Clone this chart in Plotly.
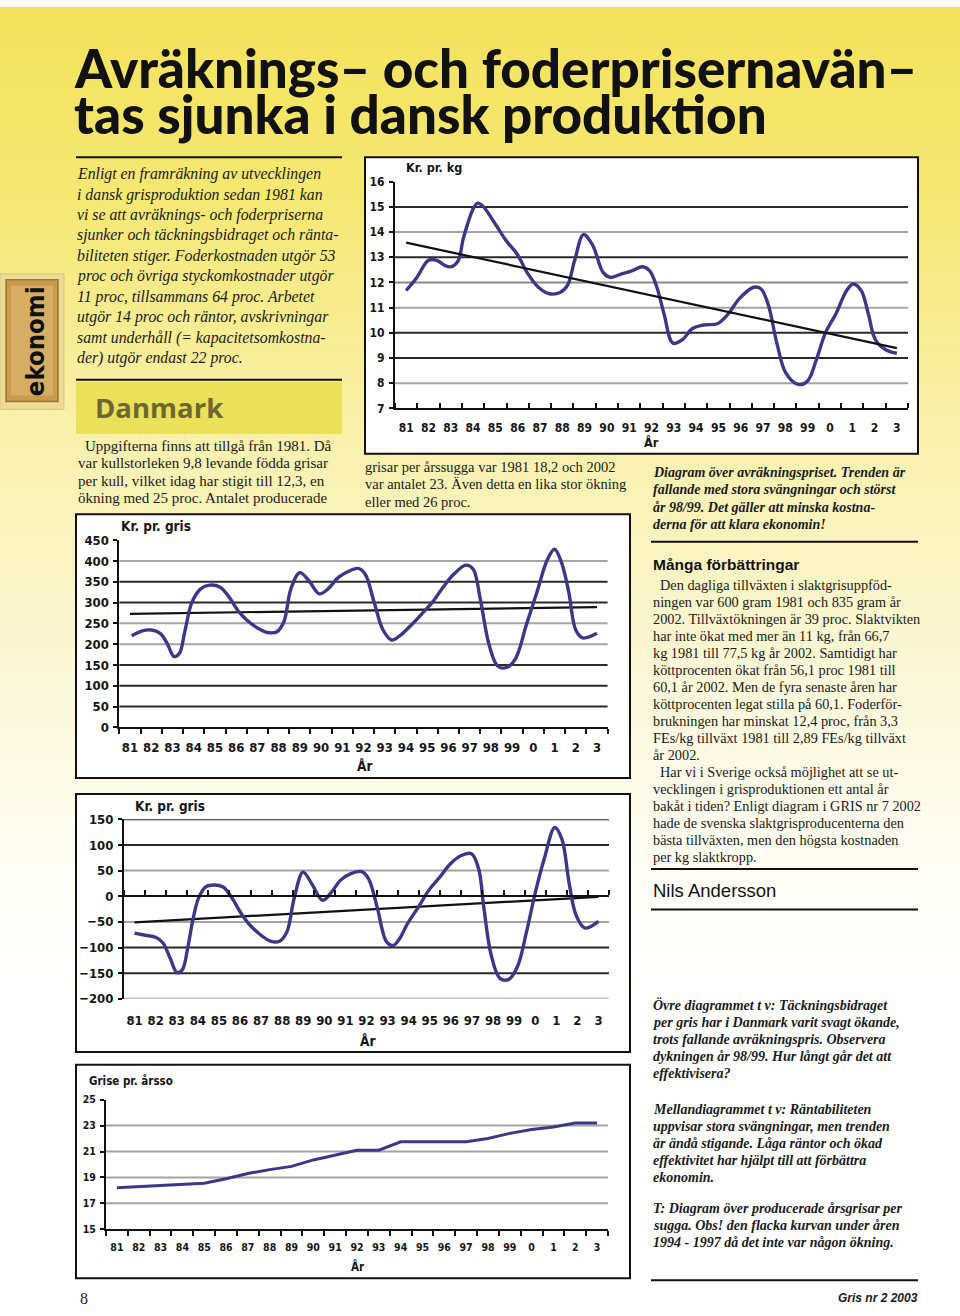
import plotly.graph_objects as go

W, H = 960, 1316


def px(x):
    return x / W


def py(y):
    return 1 - y / H


# ---------------- DATA ----------------
year_labels = ["81", "82", "83", "84", "85", "86", "87", "88", "89", "90", "91", "92",
               "93", "94", "95", "96", "97", "98", "99", "0", "1", "2", "3"]
year_pos = list(range(len(year_labels)))

# Chart 1: Avräkningspris, Kr. pr. kg (position in years after 1981, value)
kg_t = [0, 0.48, 1.0, 1.37, 1.77, 2.0, 2.33, 2.57, 3.02, 3.21, 3.45, 4.01, 4.5, 4.98, 5.46,
        5.94, 6.42, 6.9, 7.23, 7.55, 7.95, 8.35, 8.83, 9.15, 9.64, 10.12, 10.6, 10.92, 11.24,
        11.56, 11.96, 12.37, 12.85, 13.33, 13.97, 14.45, 14.93, 15.58, 15.9, 16.22, 16.62,
        17.02, 17.58, 17.99, 18.39, 18.79, 19.27, 19.75, 20.04, 20.4, 20.72, 21.04, 21.52, 22.0]
kg_val = [11.68, 12.2, 12.88, 12.88, 12.66, 12.62, 12.86, 13.77, 14.95, 15.15, 15.02, 14.3,
          13.64, 13.12, 12.34, 11.8, 11.55, 11.6, 11.88, 12.86, 13.9, 13.5, 12.4, 12.2, 12.33,
          12.46, 12.62, 12.46, 11.81, 10.76, 9.59, 9.72, 10.18, 10.31, 10.37, 10.76, 11.35,
          11.81, 11.75, 11.16, 9.59, 8.41, 7.95, 8.08, 8.93, 9.98, 10.76, 11.68, 11.94, 11.68,
          10.76, 9.72, 9.32, 9.19]
kg_trend_t = [0, 22]
kg_trend = [13.58, 9.39]

# Chart 2: Täckningsbidrag, Kr. pr. gris
tb_t = [0.08, 0.58, 1.0, 1.42, 1.75, 2.08, 2.33, 2.58, 2.92, 3.33, 3.75, 4.25, 4.67, 5.08,
        5.5, 6.0, 6.5, 6.92, 7.25, 7.58, 8.0, 8.42, 8.92, 9.33, 9.83, 10.33, 10.75, 11.08,
        11.5, 11.92, 12.33, 12.75, 13.25, 13.75, 14.25, 14.75, 15.25, 15.83, 16.17, 16.5,
        16.92, 17.33, 17.75, 18.17, 18.67, 19.17, 19.67, 20.0, 20.33, 20.67, 21.0, 21.33, 22.0]
tb_val = [220, 232, 234, 226, 202, 170, 178, 230, 301, 333, 342, 337, 313, 281, 258, 239,
          228, 230, 254, 333, 372, 353, 321, 333, 361, 376, 382, 368, 301, 234, 210, 222,
          246, 273, 301, 337, 368, 390, 380, 309, 198, 147, 144, 166, 246, 325, 404, 428,
          396, 325, 234, 215, 226]
tb_trend_t = [0, 22]
tb_trend = [273, 289]

# Chart 3: Räntabilitet, Kr. pr. gris
ra_t = [0, 0.5, 1.0, 1.35, 1.68, 2.02, 2.27, 2.52, 2.78, 3.03, 3.36, 3.78, 4.2, 4.63, 5.05,
        5.47, 5.97, 6.48, 6.9, 7.23, 7.57, 7.99, 8.41, 8.92, 9.34, 9.76, 10.26, 10.77, 11.1,
        11.52, 11.94, 12.25, 12.53, 12.95, 13.46, 13.96, 14.47, 14.97, 15.47, 15.98, 16.32,
        16.57, 16.91, 17.33, 17.75, 18.17, 18.59, 19.01, 19.43, 19.93, 20.27, 20.6, 20.94,
        21.36, 22.0]
ra_val = [-72, -76, -80, -91, -120, -149, -143, -101, -43, -4, 18, 22, 18, -4, -33, -56, -75,
          -88, -87, -69, -4, 47, 24, -8, 8, 31, 44, 48, 34, -24, -88, -96, -85, -53, -21, 12,
          37, 63, 79, 83, 53, -24, -114, -160, -162, -136, -69, 8, 73, 134, 111, 28, -37,
          -62, -49]
ra_trend_t = [0, 22]
ra_trend = [-51, -1]

# Chart 4: Grise pr. årsso
so_val = [18.2, 18.3, 18.4, 18.5, 18.55, 18.9, 19.3, 19.6, 19.85, 20.35, 20.7, 21.1, 21.1,
          21.75, 21.75, 21.75, 21.75, 22.0, 22.4, 22.7, 22.9, 23.2, 23.2]

# tick values
kg_ticks = [7, 8, 9, 10, 11, 12, 13, 14, 15, 16]
tb_ticks = [0, 50, 100, 150, 200, 250, 300, 350, 400, 450]
ra_ticks = [-200, -150, -100, -50, 0, 50, 100, 150]
so_ticks = [15, 17, 19, 21, 23, 25]

# ---------------- STYLE ----------------
LINE = "#3b3987"
DARK = "#2a2a2a"
GRAY = "#a4a4a4"
CHART_FONT = "Liberation Sans Narrow, DejaVu Sans Condensed, Arial Narrow, sans-serif"
SERIF = "Liberation Serif, Times New Roman, serif"
SANS = "Liberation Sans, Arial, sans-serif"

fig = go.Figure()

# chart frames (pixel boxes) and plot areas
charts = {
    "1": dict(box=(365, 152, 918, 452), dom_x=(395, 908), dom_y=(176.7, 406), rng=(7, 16),
              ticks=kg_ticks, fsize=12, xdir="inside"),
    "2": dict(box=(76, 513, 630, 780), dom_x=(119.4, 607.6), dom_y=(539.3, 728.7), rng=(0, 450),
              ticks=tb_ticks, fsize=13, xdir="outside"),
    "3": dict(box=(76, 796, 630, 1057), dom_x=(124, 609), dom_y=(821.7, 1003.3), rng=(-200, 150),
              ticks=ra_ticks, fsize=13, xdir=""),
    "4": dict(box=(76, 1070, 630, 1286), dom_x=(106, 608), dom_y=(1105.3, 1236.3), rng=(15, 25),
              ticks=so_ticks, fsize=10.5, xdir="outside"),
}

shapes = []
# background gradient
stops = [(0, (243, 226, 90)), (200, (245, 232, 116)), (450, (249, 241, 175)),
         (700, (252, 248, 220)), (900, (255, 254, 248)), (1000, (255, 255, 255))]


def grad(y):
    for (y0, c0), (y1, c1) in zip(stops[:-1], stops[1:]):
        if y0 <= y <= y1:
            f = (y - y0) / (y1 - y0)
            return "rgb(%d,%d,%d)" % tuple(round(a + (b - a) * f) for a, b in zip(c0, c1))
    return "rgb(255,255,255)"


step = 8
for yy in range(0, 1000, step):
    shapes.append(dict(type="rect", xref="paper", yref="paper", x0=0, x1=1,
                       y0=py(yy + step + 0.5), y1=py(yy), fillcolor=grad(yy + step / 2),
                       line=dict(width=0), layer="below"))

for k, c in charts.items():
    x0, y0, x1, y1 = c["box"]
    shapes.append(dict(type="rect", xref="paper", yref="paper", x0=px(x0), x1=px(x1),
                       y0=py(y1), y1=py(y0), fillcolor="white",
                       line=dict(color="#111", width=2), layer="below"))

# Danmark box
shapes.append(dict(type="rect", xref="paper", yref="paper", x0=px(76), x1=px(342),
                   y0=py(432), y1=py(379), fillcolor="#ebe05a", line=dict(width=0), layer="below"))
# ekonomi tab
shapes.append(dict(type="rect", xref="paper", yref="paper", x0=px(0), x1=px(64),
                   y0=py(407), y1=py(270), fillcolor="#ecdc98", line=dict(color="#d8c57a", width=1),
                   layer="below"))
shapes.append(dict(type="rect", xref="paper", yref="paper", x0=px(6), x1=px(58),
                   y0=py(399), y1=py(276), fillcolor="#c89a4c", line=dict(color="#9f7633", width=1.5),
                   layer="below"))
shapes.append(dict(type="rect", xref="paper", yref="paper", x0=px(11), x1=px(53),
                   y0=py(393), y1=py(282), fillcolor="#d5ad63", line=dict(width=0),
                   layer="below"))

# rules
for (xa, xb, yy) in [(76, 342, 152), (76, 342, 377), (651, 918, 541), (651, 918, 872),
                     (651, 918, 913), (651, 918, 1288)]:
    shapes.append(dict(type="line", xref="paper", yref="paper", x0=px(xa), x1=px(xb),
                       y0=py(yy), y1=py(yy), line=dict(color="#111", width=2)))

# gridlines (value, colour) per chart
grids = {
    "1": [(15, DARK), (14, GRAY), (13, DARK), (12, "#888"), (11, GRAY), (10, DARK), (9, DARK), (8, GRAY)],
    "2": [(400, GRAY), (350, DARK), (300, DARK), (250, GRAY), (200, GRAY), (150, DARK), (100, DARK), (50, DARK)],
    "3": [(150, DARK), (100, DARK), (50, GRAY), (-50, GRAY), (-100, DARK), (-150, DARK), (-200, GRAY)],
    "4": [(23, GRAY), (21, GRAY), (19, GRAY), (17, GRAY)],
}
for k, gl in grids.items():
    xr = "x domain" if k == "1" else "x%s domain" % k
    yr = "y" if k == "1" else "y%s" % k
    for v, col in gl:
        shapes.append(dict(type="line", xref=xr, yref=yr, x0=0, x1=1, y0=v, y1=v,
                           line=dict(color=col, width=2), layer="below"))

layout_axes = {}
for k, c in charts.items():
    xn = "xaxis" if k == "1" else "xaxis%s" % k
    yn = "yaxis" if k == "1" else "yaxis%s" % k
    xa = "x" if k == "1" else "x%s" % k
    ya = "y" if k == "1" else "y%s" % k
    tf = dict(family=CHART_FONT, size=c["fsize"], color="#151515", weight="bold")
    layout_axes[xn] = dict(
        domain=[px(c["dom_x"][0]), px(c["dom_x"][1])], anchor=ya, range=[-0.5, 22.5],
        tickmode="array", tickvals=year_pos, ticktext=year_labels, ticks="",
        showgrid=False, zeroline=False, showline=(k != "3"), linecolor="#111", linewidth=2,
        ticklabelstandoff=7 if k != "3" else 12, tickfont=tf, fixedrange=True,
        minor=dict(tickmode="linear", tick0=-0.5, dtick=1, ticks=c["xdir"], ticklen=5,
                   tickcolor="#111", tickwidth=1.5, showgrid=False),
    )
    layout_axes[yn] = dict(
        domain=[py(c["dom_y"][1]), py(c["dom_y"][0])], anchor=xa, range=list(c["rng"]),
        tickmode="array", tickvals=c["ticks"], ticks="outside", ticklen=4, tickwidth=1.5,
        tickcolor="#111", showgrid=False, zeroline=False, showline=True, linecolor="#111",
        linewidth=2, tickfont=tf, ticklabelstandoff=2, fixedrange=True,
    )

# zero axis of chart 3 (overlay axis positioned at value 0)
c3 = charts["3"]
zero_py = c3["dom_y"][0] + (150 / 350) * (c3["dom_y"][1] - c3["dom_y"][0])
layout_axes["xaxis5"] = dict(overlaying="x3", anchor="free", position=py(zero_py),
                             range=[-0.5, 22.5], showline=True, linecolor="#111", linewidth=2,
                             tickvals=[], showgrid=False, zeroline=False, showticklabels=False,
                             fixedrange=True,
                             minor=dict(tickmode="linear", tick0=-0.5, dtick=1, ticks="inside",
                                        ticklen=5, tickcolor="#111", tickwidth=1.5, showgrid=False))

# traces
fig.add_trace(go.Scatter(x=kg_t, y=kg_val, mode="lines", line=dict(color=LINE, width=3.4, shape="spline", smoothing=1),
                         xaxis="x", yaxis="y"))
fig.add_trace(go.Scatter(x=kg_trend_t, y=kg_trend, mode="lines", line=dict(color="#111", width=2.2),
                         xaxis="x", yaxis="y"))
fig.add_trace(go.Scatter(x=tb_trend_t, y=tb_trend, mode="lines", line=dict(color="#111", width=2.2),
                         xaxis="x2", yaxis="y2"))
fig.add_trace(go.Scatter(x=tb_t, y=tb_val, mode="lines", line=dict(color=LINE, width=3.4, shape="spline", smoothing=1),
                         xaxis="x2", yaxis="y2"))
fig.add_trace(go.Scatter(x=ra_trend_t, y=ra_trend, mode="lines", line=dict(color="#111", width=2.2),
                         xaxis="x3", yaxis="y3"))
fig.add_trace(go.Scatter(x=ra_t, y=ra_val, mode="lines", line=dict(color=LINE, width=3.4, shape="spline", smoothing=1),
                         xaxis="x3", yaxis="y3"))
fig.add_trace(go.Scatter(x=[None], y=[None], mode="lines", xaxis="x5", yaxis="y3"))
fig.add_trace(go.Scatter(x=year_pos, y=so_val, mode="lines", line=dict(color=LINE, width=3),
                         xaxis="x4", yaxis="y4"))

# ---------------- TEXT ----------------
ann = []


def t(x, y, text, size, family=SERIF, style="normal", weight="normal", color="#1a1a1a",
      xanchor="left", angle=0):
    ann.append(dict(x=px(x), y=py(y), xref="paper", yref="paper", text=text, showarrow=False,
                    xanchor=xanchor, yanchor="middle", textangle=angle,
                    font=dict(family=family, size=size, style=style, weight=weight, color=color)))


# title
TITLE_FONT = "Lato, Open Sans, sans-serif"
t(72, 61, "Avräknings– och foderprisernavän–", 53, TITLE_FONT, weight=900, color="#111")
t(72, 108, "tas sjunka i dansk produktion", 53, TITLE_FONT, weight=900, color="#111")

intro = ["Enligt en framräkning av utvecklingen",
         "i dansk grisproduktion sedan 1981 kan",
         "vi se att avräknings- och foderpriserna",
         "sjunker och täckningsbidraget och ränta-",
         "biliteten stiger. Foderkostnaden utgör 53",
         "proc och övriga styckomkostnader utgör",
         "11 proc, tillsammans 64 proc. Arbetet",
         "utgör 14 proc och räntor, avskrivningar",
         "samt underhåll (= kapacitetsomkostna-",
         "der) utgör endast 22 proc."]
for i, s in enumerate(intro):
    t(75, 169 + i * 20.67, s, 15.8, SERIF, style="italic")

t(93, 405, "Danmark", 27.5, "Open Sans, Lato, sans-serif", weight="bold", color="#6d6830")
t(35, 338, "ekonomi", 25.5, "DejaVu Sans Condensed, sans-serif", weight="bold", color="#111", xanchor="center", angle=-90)

upp = ["Uppgifterna finns att tillgå från 1981. Då",
       "var kullstorleken 9,8 levande födda grisar",
       "per kull, vilket idag har stigit till 12,3, en",
       "ökning med 25 proc. Antalet producerade"]
for i, s in enumerate(upp):
    t(76 + (7 if i == 0 else 0), 444 + i * 17.6, s, 15)

mid = ["grisar per årssugga var 1981 18,2 och 2002",
       "var antalet 23. Även detta en lika stor ökning",
       "eller med 26 proc."]
for i, s in enumerate(mid):
    t(363, 465 + i * 17.8, s, 14.5)

cap1 = ["Diagram över avräkningspriset. Trenden är",
        "fallande med stora svängningar och störst",
        "år 98/99. Det gäller att minska kostna-",
        "derna för att klara ekonomin!"]
for i, s in enumerate(cap1):
    t(651, 471 + i * 17.4, s, 14, SERIF, style="italic", weight="bold")

t(651, 564, "Många förbättringar", 15.5, SANS, weight="bold", color="#111")

body = ["Den dagliga tillväxten i slaktgrisuppföd-",
        "ningen var 600 gram 1981 och 835 gram år",
        "2002. Tillväxtökningen är 39 proc. Slaktvikten",
        "har inte ökat med mer än 11 kg, från 66,7",
        "kg 1981 till 77,5 kg år 2002. Samtidigt har",
        "köttprocenten ökat från 56,1 proc 1981 till",
        "60,1 år 2002. Men de fyra senaste åren har",
        "köttprocenten legat stilla på 60,1. Foderför-",
        "brukningen har minskat 12,4 proc, från 3,3",
        "FEs/kg tillväxt 1981 till 2,89 FEs/kg tillväxt",
        "år 2002.",
        "Har vi i Sverige också möjlighet att se ut-",
        "vecklingen i grisproduktionen ett antal år",
        "bakåt i tiden? Enligt diagram i GRIS nr 7 2002",
        "hade de svenska slaktgrisproducenterna den",
        "bästa tillväxten, men den högsta kostnaden",
        "per kg slaktkropp."]
for i, s in enumerate(body):
    ind = 7 if i in (0, 11) else 0
    t(651 + ind, 585 + i * 17.2, s, 14.3)

t(651, 894, "Nils Andersson", 18.5, SANS, color="#111")

cap2 = [(1008, "Övre diagrammet t v: Täckningsbidraget"),
        (1025.3, "per gris har i Danmark varit svagt ökande,"),
        (1042.6, "trots fallande avräkningspris. Observera"),
        (1060, "dykningen år 98/99. Hur långt går det att"),
        (1077.3, "effektivisera?"),
        (1113, "Mellandiagrammet t v: Räntabiliteten"),
        (1130.3, "uppvisar stora svängningar, men trenden"),
        (1147.6, "är ändå stigande. Låga räntor och ökad"),
        (1165, "effektivitet har hjälpt till att förbättra"),
        (1182.3, "ekonomin."),
        (1213, "T: Diagram över producerade årsgrisar per"),
        (1230.3, "sugga. Obs! den flacka kurvan under åren"),
        (1247.6, "1994 - 1997 då det inte var någon ökning.")]
for y, s in cap2:
    t(651, y + 2, s, 14, SERIF, style="italic", weight="bold")

t(78, 1306, "8", 16, SERIF)
t(920, 1306, "Gris nr 2 2003", 12, SANS, style="italic", weight="bold", xanchor="right")

# chart labels
CF = CHART_FONT
t(404, 162, "Kr. pr. kg", 12.5, CF, weight="bold", color="#151515")
t(651, 441, "År", 12.5, CF, weight="bold", color="#151515", xanchor="center")
t(119, 525, "Kr. pr. gris", 13.5, CF, weight="bold", color="#151515")
t(364, 768, "År", 13.5, CF, weight="bold", color="#151515", xanchor="center")
t(133, 808, "Kr. pr. gris", 13.5, CF, weight="bold", color="#151515")
t(367, 1046, "År", 13.5, CF, weight="bold", color="#151515", xanchor="center")
t(87, 1086, "Grise pr. årsso", 11.5, CF, weight="bold", color="#151515")
t(358, 1274, "År", 11.5, CF, weight="bold", color="#151515", xanchor="center")

fig.update_layout(
    width=W, height=H, margin=dict(l=0, r=0, t=0, b=0),
    paper_bgcolor="white", plot_bgcolor="rgba(0,0,0,0)",
    showlegend=False, hovermode=False,
    shapes=shapes, annotations=ann, **layout_axes,
)

fig.write_html("out.html")
